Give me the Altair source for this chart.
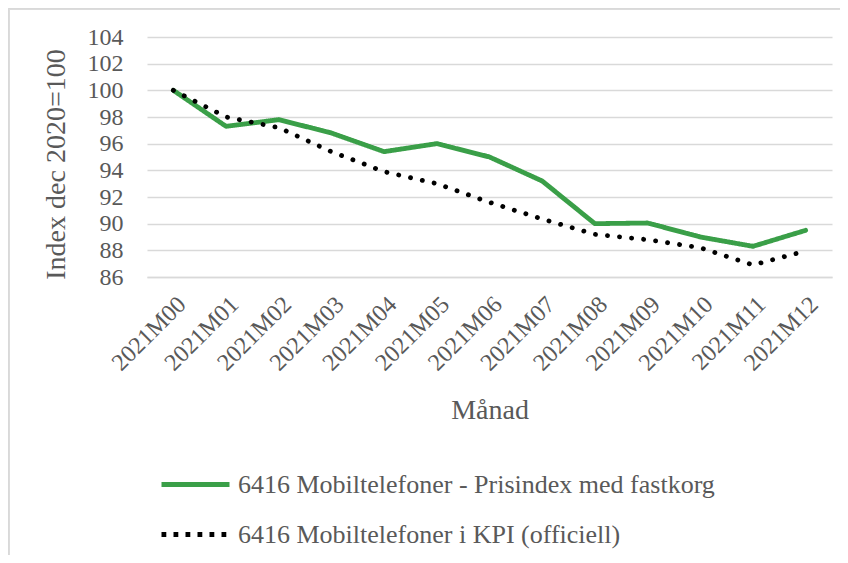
import altair as alt
import pandas as pd

months = ["2021M00", "2021M01", "2021M02", "2021M03", "2021M04", "2021M05", "2021M06",
          "2021M07", "2021M08", "2021M09", "2021M10", "2021M11", "2021M12"]
fastkorg = [100.0, 97.3, 97.8, 96.8, 95.4, 96.0, 95.0, 93.2, 90.0, 90.05, 89.0, 88.3, 89.5]
kpi = [100.0, 98.0, 97.2, 95.4, 93.9, 93.0, 91.6, 90.35, 89.2, 88.8, 88.2, 86.9, 87.95]
series_names = ["6416 Mobiltelefoner - Prisindex med fastkorg", "6416 Mobiltelefoner i KPI (officiell)"]
y_ticks = [86, 88, 90, 92, 94, 96, 98, 100, 102, 104]

df = pd.DataFrame({
    "month": months + months,
    "value": fastkorg + kpi,
    "serie": [series_names[0]] * len(months) + [series_names[1]] * len(months),
})

FONT = "Liberation Serif"
GRAY = "#595959"
GRID = "#d9d9d9"
COLORS = ["#3a9f48", "#000000"]

x_enc = alt.X("month:N", sort=months, scale=alt.Scale(type="point", padding=0.5),
              axis=alt.Axis(title="Månad", labelAngle=-45, labelFont=FONT, labelFontSize=24,
                            labelColor=GRAY, titleFont=FONT, titleFontSize=28, titleColor=GRAY,
                            titleFontWeight="normal", ticks=False, domainColor=GRID, domainWidth=1.3,
                            grid=False, labelPadding=15, titlePadding=22))
y_enc = alt.Y("value:Q", scale=alt.Scale(domain=[86, 104], nice=False, zero=False),
              axis=alt.Axis(title="Index dec 2020=100", values=y_ticks, labelFont=FONT,
                            labelFontSize=24, labelColor=GRAY, titleFont=FONT, titleFontSize=28,
                            titleColor=GRAY, titleFontWeight="normal", ticks=False, domain=False,
                            gridColor=GRID, gridWidth=1.3, labelPadding=24, titlePadding=17,
                            titleY=127))

# visible lines (round dots), no legend
lines = alt.Chart(df).mark_line(strokeWidth=4.8, strokeCap="round", strokeJoin="round").encode(
    x=x_enc, y=y_enc,
    color=alt.Color("serie:N", scale=alt.Scale(domain=series_names, range=COLORS), legend=None),
    strokeDash=alt.StrokeDash("serie:N", scale=alt.Scale(domain=series_names, range=[[1, 0], [0.1, 12]]),
                              legend=None),
)

leg = alt.Legend(orient="none", legendX=12, legendY=411, direction="vertical", title=None,
                 symbolType="stroke", symbolSize=4624, symbolStrokeWidth=4.8,
                 labelFont=FONT, labelFontSize=26, labelColor=GRAY, labelOffset=6,
                 rowPadding=-22, labelLimit=0)

# legend-only layer (no rows drawn), legend dashes suited to butt caps
legend_layer = alt.Chart(df).mark_line(strokeWidth=4.8).encode(
    x=x_enc, y=y_enc,
    color=alt.Color("serie:N", scale=alt.Scale(domain=series_names, range=COLORS), legend=leg),
    strokeDash=alt.StrokeDash("serie:N", scale=alt.Scale(domain=series_names, range=[[1, 0], [4.8, 7.2]]),
                              legend=leg),
).transform_filter("false")

frame_top = alt.Chart(df).mark_rule(color=GRID, strokeWidth=1.5).encode(
    x=alt.value(-138.5), x2=alt.value(700), y=alt.value(-28.5))
frame_left = alt.Chart(df).mark_rule(color=GRID, strokeWidth=1.5).encode(
    x=alt.value(-138.5), y=alt.value(-28.5), y2=alt.value(560))

chart = alt.layer(frame_top, frame_left, legend_layer, lines).resolve_scale(
    color="independent", strokeDash="independent"
).properties(
    width=685, height=240,
    autosize=alt.AutoSizeParams(type="none"),
    padding={"left": 139, "top": 29, "right": 8, "bottom": 278},
).configure_view(stroke=None)

chart.save("out.html", embed_options={"renderer": "svg", "actions": False})
